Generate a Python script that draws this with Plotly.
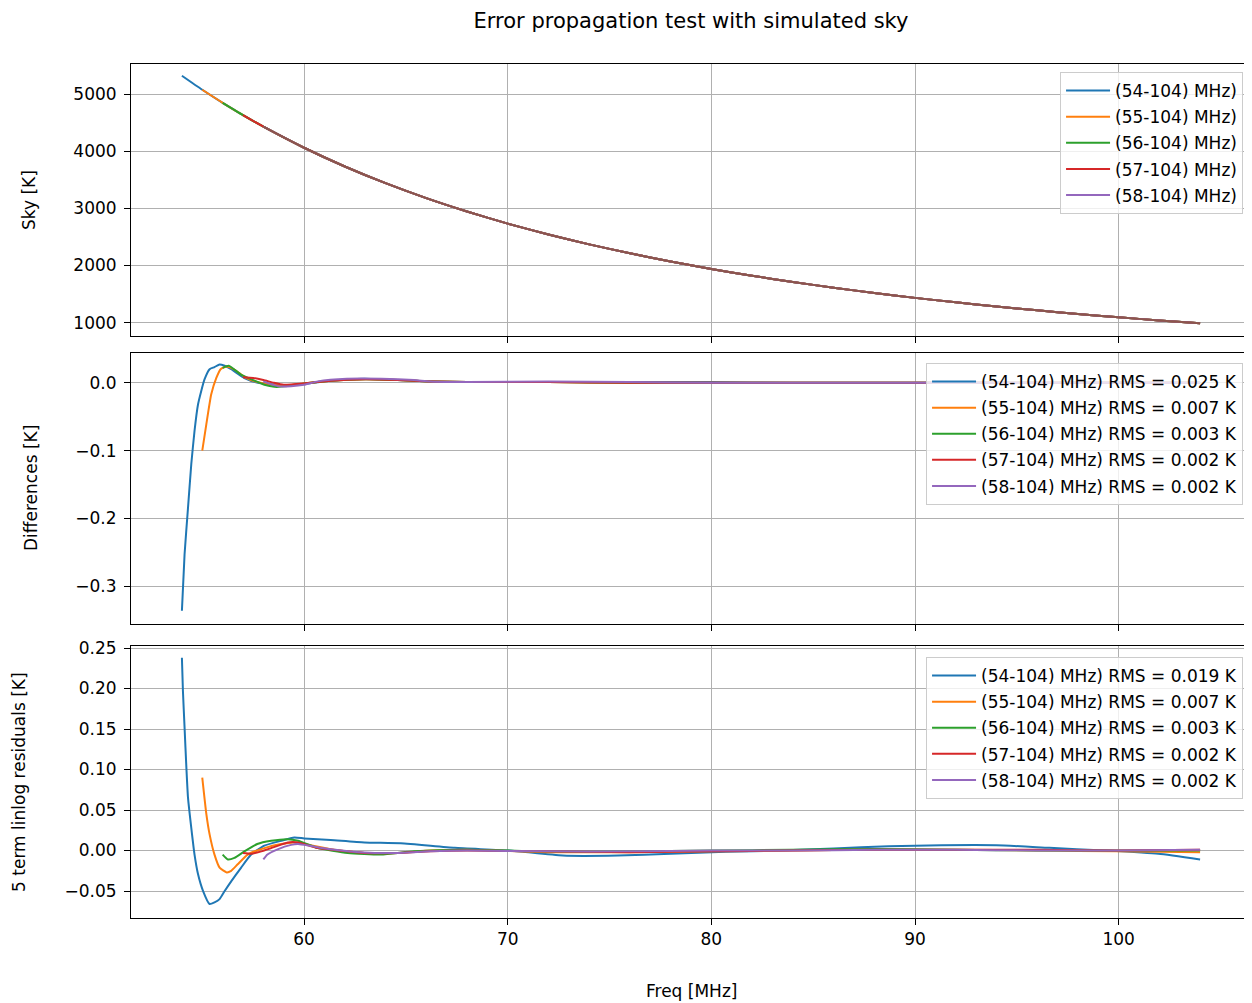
import plotly.graph_objects as go

TITLE = "Error propagation test with simulated sky"
X_LABEL = "Freq [MHz]"
Y_LABELS = ["Sky [K]", "Differences [K]", "5 term linlog residuals [K]"]

band_labels = ["(54-104) MHz)", "(55-104) MHz)", "(56-104) MHz)", "(57-104) MHz)", "(58-104) MHz)"]
start_freqs = [54, 55, 56, 57, 58]
diff_rms = ["0.025", "0.007", "0.003", "0.002", "0.002"]
resid_rms = ["0.019", "0.007", "0.003", "0.002", "0.002"]
colors = ["#1f77b4", "#ff7f0e", "#2ca02c", "#d62728", "#9467bd"]
model_color = "#8c564b"
model_start = 58

# --- Sky panel ---
sky_freq = [54, 55, 56, 57, 58, 60, 62, 64, 66, 68, 70, 72, 74, 76, 78, 80, 82, 84,
            86, 88, 90, 92, 94, 96, 98, 100, 102, 104]
sky_temp = [5320, 5075, 4846, 4631, 4429, 4060, 3732, 3440, 3179, 2945, 2733, 2543,
            2370, 2214, 2071, 1940, 1821, 1712, 1612, 1519, 1434, 1356, 1283, 1216,
            1153, 1094, 1040, 990]

tail_freq = [72, 76, 80, 84, 88, 92, 96, 100, 104]

# --- Differences panel ---
diff_f_54 = [54.0, 54.13, 54.30, 54.46, 54.62, 54.79, 54.95, 55.11, 55.36, 55.6, 55.85,
             56.1, 56.42, 57.07, 57.73, 58.38, 59.03, 60.0, 61.3, 62.96, 64.6, 66.2, 68]
diff_v_54 = [-0.336, -0.253, -0.184, -0.120, -0.071, -0.032, -0.012, 0.005, 0.020, 0.023,
             0.027, 0.025, 0.020, 0.007, 0.000, -0.002, -0.004, -0.002, 0.003, 0.006,
             0.004, 0.002, 0.001]
diff_t_54 = [0.001, 0.001, 0.001, 0.000, 0.000, 0.000, 0.000, 0.000, 0.000]

diff_f_55 = [55.0, 55.2, 55.44, 55.69, 55.9, 56.2, 56.6, 57.1, 57.7, 58.4, 59.0, 60.0,
             61.3, 63.0, 64.6, 66.2, 68]
diff_v_55 = [-0.100, -0.061, -0.017, 0.007, 0.020, 0.024, 0.019, 0.008, 0.001, -0.003,
             -0.004, -0.001, 0.003, 0.005, 0.004, 0.002, 0.001]
diff_t_55 = [0.001, 0.000, 0.000, 0.000, 0.000, 0.000, 0.000, 0.000, 0.000]

diff_f_56 = [56.0, 56.3, 56.9, 57.56, 58.05, 58.54, 59.2, 60.0, 61.3, 63.0, 64.6, 66.2, 68]
diff_v_56 = [0.022, 0.025, 0.012, 0.003, -0.003, -0.006, -0.005, -0.001, 0.003, 0.005,
             0.004, 0.002, 0.001]
diff_t_56 = [0.001, 0.000, 0.000, 0.000, 0.000, 0.000, 0.000, 0.000, 0.000]

diff_f_57 = [57.0, 57.5, 58.0, 58.5, 59.0, 60.0, 61.3, 63.0, 64.6, 66.2, 68]
diff_v_57 = [0.008, 0.007, 0.004, 0.000, -0.003, -0.001, 0.003, 0.005, 0.004, 0.002, 0.001]
diff_t_57 = [0.001, 0.000, 0.000, 0.000, 0.000, 0.000, 0.000, 0.000, 0.000]

diff_f_58 = [58.0, 58.7, 59.36, 60.0, 60.67, 62.1, 63.8, 65.4, 66.2, 68]
diff_v_58 = [0.002, -0.005, -0.005, -0.003, 0.002, 0.006, 0.006, 0.004, 0.002, 0.001]
diff_t_58 = [0.002, 0.001, 0.000, 0.000, 0.000, 0.000, 0.000, 0.000, 0.000]

# --- Residuals panel ---
res_f_54 = [54.0, 54.05, 54.13, 54.22, 54.30, 54.46, 54.62, 54.79, 55.04, 55.36, 55.6,
            55.85, 56.1, 56.42, 56.91, 57.4, 58.05, 58.87, 59.52, 60.0, 61.3, 62.96,
            64.75, 67.4, 70.07]
res_v_54 = [0.238, 0.197, 0.152, 0.102, 0.065, 0.028, -0.005, -0.029, -0.050, -0.066,
            -0.064, -0.060, -0.050, -0.038, -0.021, -0.005, 0.006, 0.012, 0.016, 0.015,
            0.013, 0.010, 0.009, 0.0033, 0.0]
res_f_54_tail = [72.7, 75.4, 78.0, 80.7, 83.35, 86.0, 88.7, 91.3, 94.0, 96.6, 99.3,
                 101.95, 104.0]
res_t_54 = [-0.0062, -0.0062, -0.0041, -0.0016, 0.0, 0.0025, 0.0053, 0.0066, 0.0066,
            0.0033, 0.0, -0.0041, -0.011]

res_f_55 = [55.0, 55.2, 55.36, 55.6, 55.85, 56.2, 56.42, 56.74, 57.23, 58.05, 58.87,
            59.5, 60.0, 61.3, 62.96, 64.6, 66.2, 68]
res_v_55 = [0.090, 0.045, 0.020, -0.005, -0.021, -0.027, -0.025, -0.017, -0.005, 0.003,
            0.008, 0.010, 0.008, 0.0015, -0.003, -0.003, 0.0, 0.001]
res_t_55 = [-0.002, -0.002, -0.001, 0.000, 0.001, 0.001, 0.000, -0.001, -0.002]

res_f_56 = [56.0, 56.26, 56.58, 57.07, 57.7, 58.38, 59.2, 59.7, 60.67, 62.14, 63.77,
            65.4, 68]
res_v_56 = [-0.005, -0.011, -0.009, -0.001, 0.008, 0.012, 0.014, 0.012, 0.003, -0.003,
            -0.005, -0.001, 0.001]
res_t_56 = [-0.001, -0.001, 0.000, 0.001, 0.002, 0.001, 0.000, 0.000, 0.000]

res_f_57 = [57.0, 57.4, 57.9, 58.38, 59.2, 59.7, 60.67, 62.96, 64.6, 66.2, 68]
res_v_57 = [-0.003, -0.004, -0.001, 0.003, 0.010, 0.010, 0.003, -0.003, -0.003, -0.001, 0.0]
res_t_57 = [-0.001, -0.002, -0.001, 0.000, 0.001, 0.001, 0.001, 0.000, 0.001]

res_f_58 = [58.0, 58.2, 58.7, 59.36, 59.7, 60.34, 61.3, 62.96, 64.6, 66.2, 68]
res_v_58 = [-0.011, -0.005, 0.0015, 0.007, 0.008, 0.0055, 0.0015, -0.0025, -0.003,
            -0.001, 0.0]
res_t_58 = [-0.001, -0.001, 0.000, 0.000, 0.001, 0.001, 0.000, 0.000, 0.001]

diff_series = [
    (diff_f_54 + tail_freq, diff_v_54 + diff_t_54),
    (diff_f_55 + tail_freq, diff_v_55 + diff_t_55),
    (diff_f_56 + tail_freq, diff_v_56 + diff_t_56),
    (diff_f_57 + tail_freq, diff_v_57 + diff_t_57),
    (diff_f_58 + tail_freq, diff_v_58 + diff_t_58),
]
res_series = [
    (res_f_54 + res_f_54_tail, res_v_54 + res_t_54),
    (res_f_55 + tail_freq, res_v_55 + res_t_55),
    (res_f_56 + tail_freq, res_v_56 + res_t_56),
    (res_f_57 + tail_freq, res_v_57 + res_t_57),
    (res_f_58 + tail_freq, res_v_58 + res_t_58),
]

FONT = "DejaVu Sans"
FS = 17
LW = 2

fig = go.Figure()

# Sky panel
for i, (lab, s0, c) in enumerate(zip(band_labels, start_freqs, colors)):
    xs = [f for f in sky_freq if f >= s0]
    ys = [t for f, t in zip(sky_freq, sky_temp) if f >= s0]
    fig.add_trace(go.Scatter(x=xs, y=ys, mode="lines", name=lab,
                             line=dict(color=c, width=LW, shape="spline", smoothing=0.6),
                             xaxis="x", yaxis="y", legend="legend",
                             legendgroup="sky%d" % i))
xs = [f for f in sky_freq if f >= model_start]
ys = [t for f, t in zip(sky_freq, sky_temp) if f >= model_start]
fig.add_trace(go.Scatter(x=xs, y=ys, mode="lines", showlegend=False,
                         line=dict(color=model_color, width=LW, shape="spline", smoothing=0.6),
                         xaxis="x", yaxis="y"))

# Differences panel
for i, ((xs, ys), lab, rms, c) in enumerate(zip(diff_series, band_labels, diff_rms, colors)):
    fig.add_trace(go.Scatter(x=xs, y=ys, mode="lines", name="%s RMS = %s K" % (lab, rms),
                             line=dict(color=c, width=LW, shape="spline", smoothing=0.5),
                             xaxis="x2", yaxis="y2", legend="legend2",
                             legendgroup="diff%d" % i))

# Residuals panel
for i, ((xs, ys), lab, rms, c) in enumerate(zip(res_series, band_labels, resid_rms, colors)):
    fig.add_trace(go.Scatter(x=xs, y=ys, mode="lines", name="%s RMS = %s K" % (lab, rms),
                             line=dict(color=c, width=LW, shape="spline", smoothing=0.5),
                             xaxis="x3", yaxis="y3", legend="legend3",
                             legendgroup="res%d" % i))

axis_common = dict(showgrid=True, gridcolor="#b0b0b0", gridwidth=1, showline=True,
                   linecolor="black", linewidth=1, mirror=True, ticks="outside",
                   ticklen=6, tickcolor="black", zeroline=False,
                   tickfont=dict(family=FONT, size=FS, color="black"))

xr = [51.5, 106.5]
xt = [60, 70, 80, 90, 100]
legend_common = dict(bgcolor="rgba(255,255,255,0.8)", bordercolor="#cccccc", borderwidth=1,
                     font=dict(family=FONT, size=FS, color="black"), xanchor="right",
                     yanchor="top", tracegroupgap=1, traceorder="grouped", itemwidth=44)

# page body adds an ~7px offset; figure is sized/margined to compensate
W, H = 1245, 996
fig.update_layout(
    width=W, height=H, autosize=False,
    paper_bgcolor="white", plot_bgcolor="white",
    margin=dict(l=123, r=2, t=56, b=86),
    font=dict(family=FONT, size=FS, color="black"),
    title=dict(text=TITLE, x=0.5, xref="paper", xanchor="center", y=1 - 13 / H,
               yanchor="middle", font=dict(family=FONT, size=21, color="black")),
    xaxis=dict(domain=[0, 1], anchor="y", range=xr, tickvals=xt, showticklabels=False, **axis_common),
    xaxis2=dict(domain=[0, 1], anchor="y2", range=xr, tickvals=xt, showticklabels=False, **axis_common),
    xaxis3=dict(domain=[0, 1], anchor="y3", range=xr, tickvals=xt,
                ticktext=[str(v) for v in xt], **axis_common),
    yaxis=dict(domain=[0.6815, 1], anchor="x", range=[767, 5525],
               tickvals=[1000, 2000, 3000, 4000, 5000], ticklabelstandoff=4, **axis_common),
    yaxis2=dict(domain=[0.3443, 0.6619], anchor="x2", range=[-0.3554, 0.0442],
                tickvals=[-0.3, -0.2, -0.1, 0.0],
                ticktext=["\u22120.3", "\u22120.2", "\u22120.1", "0.0"], ticklabelstandoff=4,
                **axis_common),
    yaxis3=dict(domain=[0, 0.3185], anchor="x3", range=[-0.0833, 0.2525],
                tickvals=[-0.05, 0.0, 0.05, 0.10, 0.15, 0.20, 0.25],
                ticktext=["\u22120.05", "0.00", "0.05", "0.10", "0.15", "0.20", "0.25"],
                ticklabelstandoff=4, **axis_common),
    legend=dict(x=0.9929, y=0.9906, **legend_common),
    legend2=dict(x=0.9929, y=0.6499, **legend_common),
    legend3=dict(x=0.9929, y=0.3056, **legend_common),
    showlegend=True,
)

annotations = [
    dict(text=X_LABEL, x=0.5, y=-0.0855, xref="paper", yref="paper", showarrow=False,
         xanchor="center", yanchor="middle", font=dict(family=FONT, size=FS, color="black")),
    dict(text=Y_LABELS[0], x=-0.0911, y=0.8407, xref="paper", yref="paper", showarrow=False,
         textangle=-90, xanchor="center", yanchor="middle",
         font=dict(family=FONT, size=FS, color="black")),
    dict(text=Y_LABELS[1], x=-0.0893, y=0.5035, xref="paper", yref="paper", showarrow=False,
         textangle=-90, xanchor="center", yanchor="middle",
         font=dict(family=FONT, size=FS, color="black")),
    dict(text=Y_LABELS[2], x=-0.1, y=0.1593, xref="paper", yref="paper", showarrow=False,
         textangle=-90, xanchor="center", yanchor="middle",
         font=dict(family=FONT, size=FS, color="black")),
]
fig.update_layout(annotations=annotations)

fig.write_html("out.html")
